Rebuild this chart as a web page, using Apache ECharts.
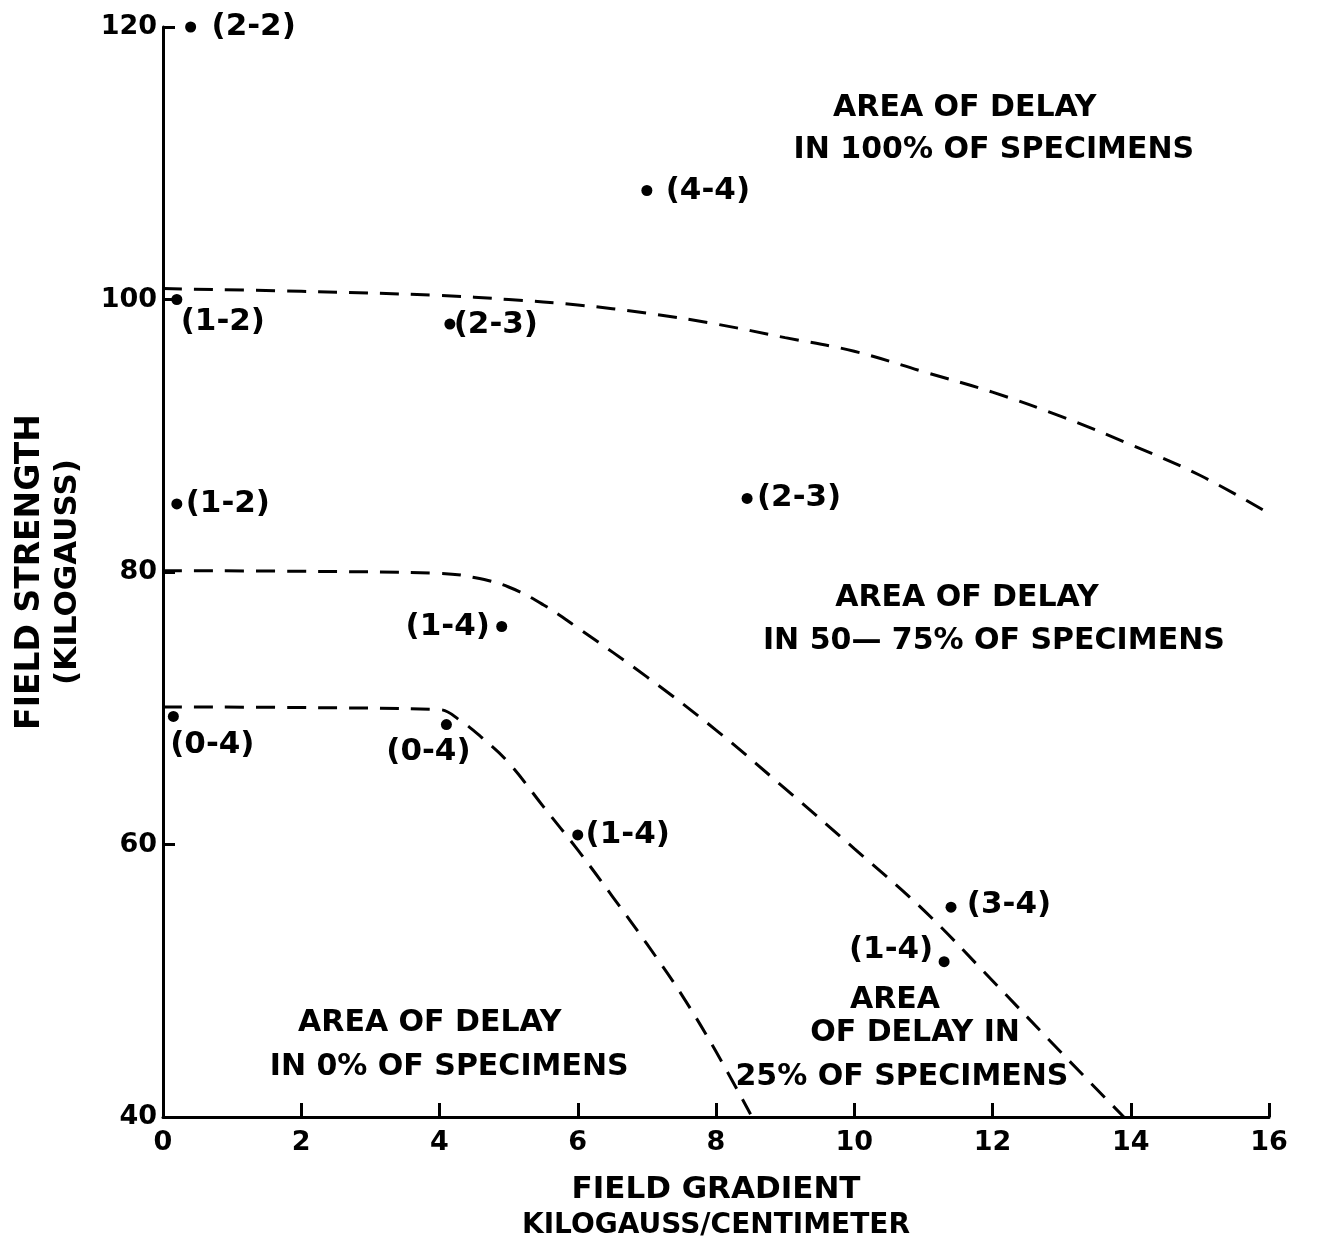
<!DOCTYPE html>
<html>
<head>
<meta charset="utf-8">
<script src="https://cdn.jsdelivr.net/npm/echarts@6/dist/echarts.min.js"></script>
<style>
html,body{margin:0;padding:0;background:#fff;}
#chart{width:1318px;height:1242px;}
</style>
</head>
<body>
<div id="chart"></div>
<script>
// ---- data ----
var xTicks = [0, 2, 4, 6, 8, 10, 12, 14, 16];
var yTicks = [40, 60, 80, 100, 120];

// observed points: [gradient, strength]
var pointX = [0.4, 7.0, 0.2, 4.15, 0.2, 8.45, 4.9, 16.2, 0.15, 4.1, 6.0, 11.4, 11.3];
var pointY = [120, 108, 100, 98.2, 85, 85.4, 76, 74.8, 69.4, 68.8, 60.7, 55.4, 51.4];
var pointLabels = ['(2-2)', '(4-4)', '(1-2)', '(2-3)', '(1-2)', '(2-3)', '(1-4)', '(2-4)', '(0-4)', '(0-4)', '(1-4)', '(3-4)', '(1-4)'];

// boundary curves
var curve100X = [0, 2, 4, 5, 6, 7, 8, 9, 10, 11, 12, 13, 14, 15, 16];
var curve100Y = [100.8, 100.6, 100.3, 100.0, 99.6, 99.0, 98.2, 97.2, 96.2, 94.7, 93.2, 91.4, 89.35, 87.1, 84.3];

var curve50X = [0, 2, 4, 4.5, 5, 5.5, 6, 7, 8, 9, 10, 11, 12, 13, 13.9];
var curve50Y = [80.1, 80.05, 79.9, 79.6, 78.9, 77.6, 75.9, 72.3, 68.4, 64.1, 59.7, 55.2, 50.0, 44.7, 40.0];

var curve25X = [0, 2, 4, 4.3, 4.6, 5, 5.5, 6, 6.5, 7, 7.5, 8, 8.5];
var curve25Y = [70.1, 70.05, 69.9, 69.1, 67.9, 66.0, 62.8, 59.6, 56.2, 52.7, 49.0, 44.8, 40.2];

// region annotations (one line each)
var noteText = ['AREA OF DELAY', 'IN 100% OF SPECIMENS', 'AREA OF DELAY', 'IN 50\u2014 75% OF SPECIMENS', 'AREA', 'OF DELAY IN', '25% OF SPECIMENS', 'AREA OF DELAY', 'IN 0% OF SPECIMENS'];
var noteX = [11.6, 12.02, 11.63, 12.02, 10.59, 10.88, 10.69, 3.86, 4.14];
var noteY = [114.06, 110.97, 78.09, 74.94, 48.59, 46.17, 42.94, 46.9, 43.67];

// ---- styles ----
var FONT = 'DejaVu Sans';
var labelOffsets = [[63, 0], [61, 0], [46, 22], [46, 1], [51, 0], [52, 0], [-54, 0], [-29, 39], [39, 29], [-18, 27], [50, 0], [58, -2], [-53, -12]];

function zip(xs, ys) { return xs.map(function (x, i) { return [x, ys[i]]; }); }

var pointData = pointX.map(function (x, i) {
  return {
    value: [x, pointY[i]],
    label: { formatter: pointLabels[i], offset: labelOffsets[i] }
  };
});

var noteData = noteX.map(function (x, i) {
  return { value: [x, noteY[i]], label: { formatter: noteText[i] } };
});

var dashStyle = { color: '#000', width: 3, type: [19, 12] };

var chart = echarts.init(document.getElementById('chart'), null, { renderer: 'canvas' });
chart.setOption({
  backgroundColor: '#fff',
  animation: false,
  grid: { left: 163, right: 49, top: 27, bottom: 125, containLabel: false, outerBoundsMode: 'none' },
  xAxis: {
    type: 'value', min: 0, max: 16, interval: 2,
    axisLine: { show: true, lineStyle: { color: '#000', width: 3 } },
    axisTick: { show: true, inside: true, length: 14, lineStyle: { color: '#000', width: 3 } },
    axisLabel: { color: '#000', fontFamily: FONT, fontSize: 27, fontWeight: 'bold', margin: 12,
      formatter: function (v) { return xTicks.indexOf(v) >= 0 ? String(v) : ''; } },
    splitLine: { show: false },
    name: 'FIELD GRADIENT\n{b|KILOGAUSS/CENTIMETER}',
    nameLocation: 'middle', nameGap: 55,
    nameTextStyle: { color: '#000', fontFamily: FONT, fontSize: 31, fontWeight: 'bold', lineHeight: 36, verticalAlign: 'top',
      rich: { b: { fontFamily: FONT, fontSize: 28, fontWeight: 'bold', color: '#000', lineHeight: 36 } } }
  },
  yAxis: {
    type: 'value', min: 40, max: 120, interval: 20,
    axisLine: { show: true, lineStyle: { color: '#000', width: 3 } },
    axisTick: { show: true, inside: true, length: 12, lineStyle: { color: '#000', width: 3 } },
    axisLabel: { color: '#000', fontFamily: FONT, fontSize: 27, fontWeight: 'bold', margin: 6,
      formatter: function (v) { return yTicks.indexOf(v) >= 0 ? String(v) : ''; } },
    splitLine: { show: false },
    name: 'FIELD STRENGTH\n{b|(KILOGAUSS)}',
    nameLocation: 'middle', nameGap: 77, nameRotate: 90,
    nameTextStyle: { color: '#000', fontFamily: FONT, fontSize: 33, fontWeight: 'bold', lineHeight: 37,
      rich: { b: { fontFamily: FONT, fontSize: 31, fontWeight: 'bold', color: '#000', lineHeight: 37 } } }
  },
  series: [
    { type: 'line', data: zip(curve100X, curve100Y), smooth: 0.4, showSymbol: false, symbol: 'none', lineStyle: dashStyle, silent: true },
    { type: 'line', data: zip(curve50X, curve50Y), smooth: 0.4, showSymbol: false, symbol: 'none', lineStyle: dashStyle, silent: true },
    { type: 'line', data: zip(curve25X, curve25Y), smooth: 0.4, showSymbol: false, symbol: 'none', lineStyle: dashStyle, silent: true },
    {
      type: 'scatter', data: pointData, symbol: 'circle', symbolSize: 11,
      itemStyle: { color: '#000', opacity: 1 },
      label: { show: true, position: 'inside', color: '#000', fontFamily: FONT, fontSize: 31, fontWeight: 'bold' }
    },
    {
      type: 'scatter', data: noteData, symbolSize: 0, silent: true,
      itemStyle: { color: '#000', opacity: 1 },
      label: { show: true, position: 'inside', color: '#000', fontFamily: FONT, fontSize: 30, fontWeight: 'bold' }
    }
  ]
});
</script>
</body>
</html>
